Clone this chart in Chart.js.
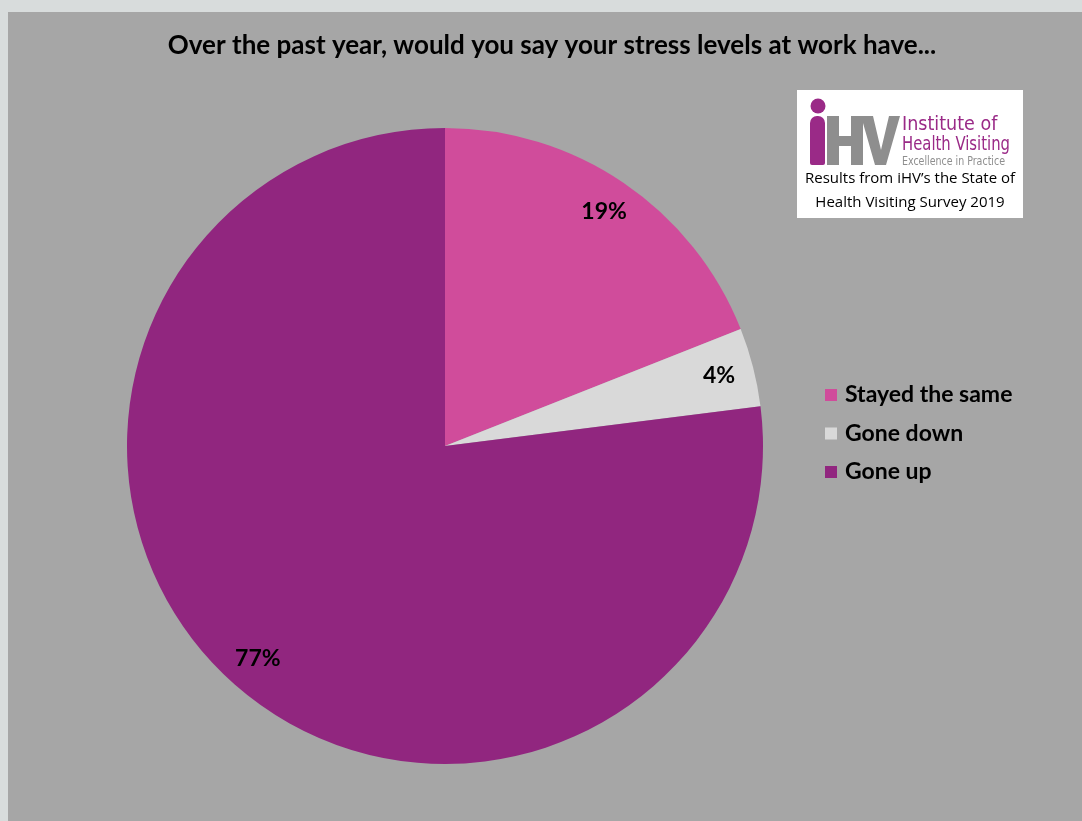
<!DOCTYPE html>
<html>
<head>
<meta charset="utf-8">
<script src="https://cdn.jsdelivr.net/npm/chart.js@4/dist/chart.umd.min.js"></script>
<style>
  html, body { margin: 0; padding: 0; background: #d8dcdc; }
  #wrap { position: absolute; left: 0; top: 0; width: 1082px; height: 821px; }
</style>
</head>
<body>
<div id="wrap"><canvas id="c" width="1082" height="821"></canvas></div>
<script>
const titleText = 'Over the past year, would you say your stress levels at work have...';
const categories = ['Stayed the same', 'Gone down', 'Gone up'];
const shares = [19, 4, 77];
const sliceColors = ['#d04c9b', '#d9d9d9', '#91267f'];
const noteLines = ['Results from iHV\u2019s the State of', 'Health Visiting Survey 2019'];

const FONT = 'Lato, "Open Sans", sans-serif';

// Grey panel behind the chart, title, legend and the logo card
const decorPlugin = {
  id: 'decor',
  beforeDraw(chart) {
    const ctx = chart.ctx;
    ctx.save();
    ctx.fillStyle = '#d8dcdc';
    ctx.fillRect(0, 0, chart.width, chart.height);
    ctx.fillStyle = '#a6a6a6';
    ctx.fillRect(8, 12, chart.width - 8, chart.height - 12);
    ctx.restore();
  },
  afterDraw(chart) {
    const ctx = chart.ctx;
    ctx.save();
    // title
    ctx.fillStyle = '#000';
    ctx.font = 'bold 26px ' + FONT;
    ctx.textAlign = 'center';
    ctx.textBaseline = 'alphabetic';
    ctx.fillText(titleText, 552, 54);

    // slice labels
    const meta = chart.getDatasetMeta(0);
    ctx.font = 'bold 23px ' + FONT;
    meta.data.forEach((arc, i) => {
      const p = arc.getProps(['x', 'y', 'startAngle', 'endAngle', 'outerRadius']);
      const mid = (p.startAngle + p.endAngle) / 2;
      const r = p.outerRadius * 0.89;
      ctx.textBaseline = 'middle';
      ctx.fillText(shares[i] + '%', p.x + Math.cos(mid) * r, p.y + Math.sin(mid) * r);
    });

    // legend
    ctx.textAlign = 'left';
    ctx.font = 'bold 23px ' + FONT;
    categories.forEach((name, i) => {
      const y = 395 + i * 38.5;
      ctx.fillStyle = sliceColors[i];
      ctx.fillRect(825, y - 6, 12, 12);
      ctx.fillStyle = '#000';
      ctx.textBaseline = 'middle';
      ctx.fillText(name, 845, y);
    });

    // logo card
    ctx.fillStyle = '#ffffff';
    ctx.fillRect(797, 90, 226, 128);
    // purple "i"
    ctx.fillStyle = '#9a2a87';
    ctx.beginPath();
    ctx.arc(818, 106, 7.5, 0, Math.PI * 2);
    ctx.fill();
    ctx.beginPath();
    ctx.roundRect(810, 116, 15, 49, [7, 7, 2, 2]);
    ctx.fill();
    // grey "H"
    ctx.fillStyle = '#8e8e8e';
    ctx.fillRect(827, 116, 12, 49);
    ctx.fillRect(851, 116, 12, 49);
    ctx.fillRect(838, 136, 14, 10);
    // grey "V"
    ctx.beginPath();
    ctx.moveTo(861, 116);
    ctx.lineTo(873, 116);
    ctx.lineTo(881, 150);
    ctx.lineTo(889, 116);
    ctx.lineTo(900, 116);
    ctx.lineTo(886, 165);
    ctx.lineTo(875, 165);
    ctx.closePath();
    ctx.fill();

    ctx.textBaseline = 'alphabetic';
    ctx.fillStyle = '#9a2a87';
    ctx.font = '19.5px "Liberation Sans Narrow", "DejaVu Sans Condensed", sans-serif';
    ctx.fillText('Institute of', 902, 130, 98);
    ctx.fillText('Health Visiting', 902, 150, 108);
    ctx.fillStyle = '#8e8e8e';
    ctx.font = '12px "Liberation Sans Narrow", "DejaVu Sans Condensed", sans-serif';
    ctx.fillText('Excellence in Practice', 902, 165, 103);

    ctx.fillStyle = '#000';
    ctx.textAlign = 'center';
    ctx.font = '15px "Open Sans", sans-serif';
    ctx.fillText(noteLines[0], 910, 183);
    ctx.fillText(noteLines[1], 910, 207);
    ctx.restore();
  }
};

new Chart(document.getElementById('c'), {
  type: 'pie',
  data: {
    labels: categories,
    datasets: [{
      data: shares,
      backgroundColor: sliceColors,
      borderWidth: 0
    }]
  },
  options: {
    responsive: false,
    animation: false,
    layout: { padding: { left: 127, right: 319, top: 128, bottom: 57 } },
    plugins: {
      legend: { display: false },
      tooltip: { enabled: false },
      title: { display: false }
    }
  },
  plugins: [decorPlugin]
});
</script>
</body>
</html>
